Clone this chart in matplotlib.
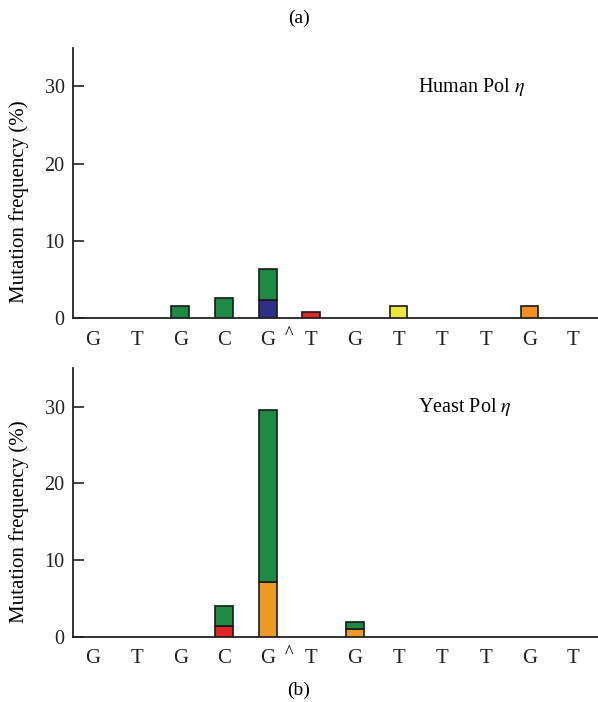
import matplotlib
matplotlib.use("Agg")
import matplotlib.pyplot as plt
import numpy as np

plt.rcParams['font.family'] = ['Liberation Serif', 'DejaVu Serif']
plt.rcParams['mathtext.fontset'] = 'stix'

# sequence under the bars
bases = ['G', 'T', 'G', 'C', 'G', 'T', 'G', 'T', 'T', 'T', 'G', 'T']
insert_after = 4  # the "^" mark sits between G (index 4) and T (index 5)

# human pol eta, stacked segments (%)
human_navy = [0, 0, 0, 0, 2.3, 0, 0, 0, 0, 0, 0, 0]
human_green = [0, 0, 1.6, 2.55, 4.0, 0, 0, 0, 0, 0, 0, 0]
human_red = [0, 0, 0, 0, 0, 0.8, 0, 0, 0, 0, 0, 0]
human_yellow = [0, 0, 0, 0, 0, 0, 0, 1.5, 0, 0, 0, 0]
human_orange = [0, 0, 0, 0, 0, 0, 0, 0, 0, 0, 1.5, 0]

# yeast pol eta, stacked segments (%)
yeast_red = [0, 0, 0, 1.45, 0, 0, 0, 0, 0, 0, 0, 0]
yeast_orange = [0, 0, 0, 0, 7.1, 0, 1.1, 0, 0, 0, 0, 0]
yeast_green = [0, 0, 0, 2.55, 22.5, 0, 0.9, 0, 0, 0, 0, 0]

GREEN = '#1f8a45'
NAVY = '#2e2f86'
RED = '#e0262b'
YELLOW = '#e9e73d'
ORANGE = '#f08f25'
ORANGE2 = '#eb9a28'

x = np.arange(len(bases))
w = 0.41


def stack(ax, layers):
    bottom = np.zeros(len(bases))
    for vals, col in layers:
        vals = np.array(vals, dtype=float)
        m = vals > 0
        ax.bar(x[m], vals[m], w, bottom=bottom[m], color=col,
               edgecolor='#1a1a1a', linewidth=1.2, zorder=3)
        bottom += vals


def style(ax, title):
    ax.set_xlim(-0.46, 11.57)
    ax.set_ylim(0, 35)
    ax.set_yticks([0, 10, 20, 30])
    ax.spines['top'].set_visible(False)
    ax.spines['right'].set_visible(False)
    for s in ['left', 'bottom']:
        ax.spines[s].set_linewidth(1.3)
        ax.spines[s].set_color('#222222')
    ax.tick_params(axis='y', direction='in', length=8, width=1.2,
                   labelsize=14.5, pad=6, colors='#222222')
    ax.tick_params(axis='x', length=0, labelsize=15, pad=9, colors='#222222')
    ax.set_xticks(x)
    ax.set_xticklabels(bases)
    ax.set_ylabel('Mutation frequency (%)', fontsize=15)
    ax.yaxis.set_label_coords(-0.084, 15 / 35)
    ax.text(insert_after + 0.5, -0.03, '^', transform=ax.get_xaxis_transform(),
            ha='center', va='top', fontsize=13)
    ax.text(0.657, 0.855, title, transform=ax.transAxes, fontsize=14.5,
            ha='left', va='center')


fig = plt.figure(figsize=(5.98, 7.02), dpi=100)
ax1 = fig.add_axes([0.122, 0.547, 0.878, 0.385])
ax2 = fig.add_axes([0.122, 0.0926, 0.878, 0.383])

stack(ax1, [(human_navy, NAVY), (human_green, GREEN), (human_red, RED),
            (human_yellow, YELLOW), (human_orange, ORANGE)])
stack(ax2, [(yeast_red, RED), (yeast_orange, ORANGE2), (yeast_green, GREEN)])

style(ax1, 'Human Pol $\\mathit{\\eta}$')
style(ax2, 'Yeast Pol $\\mathit{\\eta}$')

fig.text(0.5, 0.974, '(a)', ha='center', va='center', fontsize=14)
fig.text(0.5, 0.017, '(b)', ha='center', va='center', fontsize=14)

fig.savefig('out.png', dpi=100)
